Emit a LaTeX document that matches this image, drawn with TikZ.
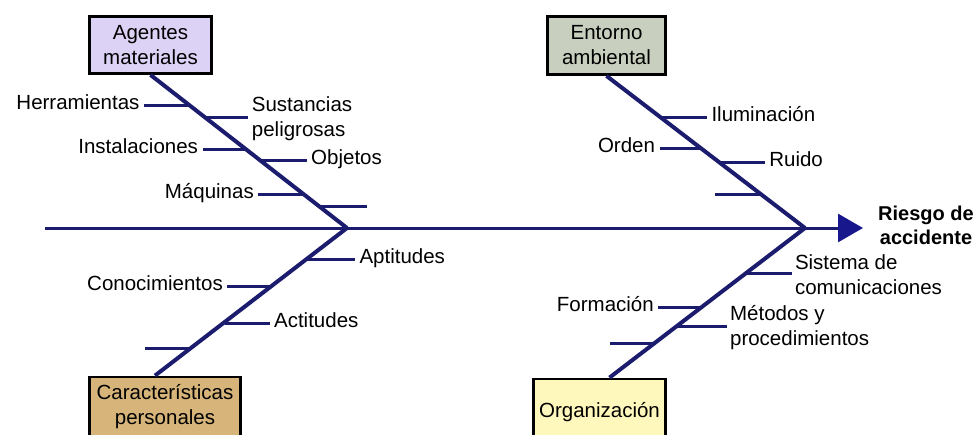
\documentclass[tikz,border=0pt]{standalone}
\usepackage{fontspec}
\setmainfont{Liberation Sans}
\usetikzlibrary{arrows.meta}

\definecolor{BoneNavy}{RGB}{28,28,110}
\definecolor{HeadBlue}{RGB}{24,24,140}
\definecolor{Lavender}{RGB}{220,210,245}
\definecolor{GreyGreen}{RGB}{200,207,191}
\definecolor{Tan}{RGB}{214,180,122}
\definecolor{PaleYellow}{RGB}{255,248,188}

\tikzset{
  cause/.style={draw=black, line width=2.8pt, align=center, inner sep=2pt,
    font=\fontsize{20.5}{25}\selectfont},
  bone/.style={draw=BoneNavy, line width=4pt},
  rib/.style={draw=BoneNavy, line width=3pt},
  lbl/.style={inner sep=3pt, yshift=-2pt, font=\fontsize{20.5}{25}\selectfont},
  lbltwo/.style={lbl, yshift=0pt, inner sep=2pt, align=left},
}

\begin{document}
\begin{tikzpicture}[x=1pt, y=-1pt]

% picture size
\useasboundingbox (0,0) rectangle (979,434);
\clip (0,0) rectangle (979,434);

% spine
\coordinate (tail) at (45,228);
\coordinate (head) at (863,228);
\coordinate (j1) at (347,228);
\coordinate (j2) at (805,228);
\draw[draw=BoneNavy, line width=3pt, -{Triangle[length=25pt, width=28pt, color=HeadBlue]}] (tail) -- (head);
\node[font=\bfseries\fontsize{20}{24}\selectfont, align=center] (riesgo) at (926,225) {Riesgo de\\accidente};

% agentes materiales
\node[cause, fill=Lavender, minimum width=122pt, minimum height=57pt] (am) at (150.5,45) {Agentes\\materiales};
\draw[bone] (am.south) -- (j1);
\coordinate (am1) at (189,105);
\coordinate (am2) at (204.4,117);
\coordinate (am3) at (245.5,149);
\coordinate (am4) at (259.7,160);
\coordinate (am5) at (303.3,194);
\coordinate (am6) at (318.7,206);
\draw[rib] (am1) -- ++(-45,0) node[lbl, anchor=mid east] (herr) {Herramientas};
\draw[rib] (am2) -- ++(44,0) node[lbltwo, anchor=west] (sust) {Sustancias\\peligrosas};
\draw[rib] (am3) -- ++(-43,0) node[lbl, anchor=mid east] (inst) {Instalaciones};
\draw[rib] (am4) -- ++(47,0) node[lbl, anchor=mid west] (obj) {Objetos};
\draw[rib] (am5) -- ++(-45,0) node[lbl, anchor=mid east] (maq) {Máquinas};
\coordinate (am6e) at (367,206);
\draw[rib] (am6) -- (am6e);

% entorno ambiental
\node[cause, fill=GreyGreen, minimum width=118pt, minimum height=58pt] (ea) at (606.5,45.5) {Entorno\\ambiental};
\draw[bone] (ea.south) -- (j2);
\coordinate (ea1) at (660,117);
\coordinate (ea2) at (700.5,148);
\coordinate (ea3) at (718.8,162);
\coordinate (ea4) at (760.6,194);
\draw[rib] (ea1) -- ++(47,0) node[lbl, anchor=mid west] (ilum) {Iluminación};
\draw[rib] (ea2) -- ++(-41,0) node[lbl, anchor=mid east] (orden) {Orden};
\draw[rib] (ea3) -- ++(46,0) node[lbl, anchor=mid west] (ruido) {Ruido};
\coordinate (ea4e) at (715,194);
\draw[rib] (ea4) -- (ea4e);

% caracteristicas personales
\node[cause, fill=Tan, minimum width=151pt, minimum height=60pt] (cp) at (165,407) {Características\\personales};
\draw[bone] ([xshift=-10pt]cp.north) -- (j1);
\coordinate (cp1) at (307,259);
\coordinate (cp2) at (272.3,286);
\coordinate (cp3) at (224.6,323);
\coordinate (cp4) at (192.4,348);
\draw[rib] (cp1) -- ++(48,0) node[lbl, anchor=mid west] (apt) {Aptitudes};
\draw[rib] (cp2) -- ++(-45,0) node[lbl, anchor=mid east] (cono) {Conocimientos};
\draw[rib] (cp3) -- ++(45,0) node[lbl, anchor=mid west] (act) {Actitudes};
\coordinate (cp4e) at (145,348);
\draw[rib] (cp4) -- (cp4e);

% organizacion
\node[cause, fill=PaleYellow, minimum width=132pt, minimum height=66pt] (org) at (599.5,412) {Organización};
\draw[bone] ([xshift=10pt]org.north) -- (j2);
\coordinate (org1) at (746.5,273);
\coordinate (org2) at (702.3,307);
\coordinate (org3) at (677.6,326);
\coordinate (org4) at (655.5,343);
\draw[rib] (org1) -- ++(45,0) node[lbltwo, anchor=west] (sist) {Sistema de\\comunicaciones};
\draw[rib] (org2) -- ++(-44,0) node[lbl, anchor=mid east] (form) {Formación};
\draw[rib] (org3) -- ++(49,0) node[lbltwo, anchor=west] (met) {Métodos y\\procedimientos};
\coordinate (org4e) at (610,343);
\draw[rib] (org4) -- (org4e);

\end{tikzpicture}
\end{document}
